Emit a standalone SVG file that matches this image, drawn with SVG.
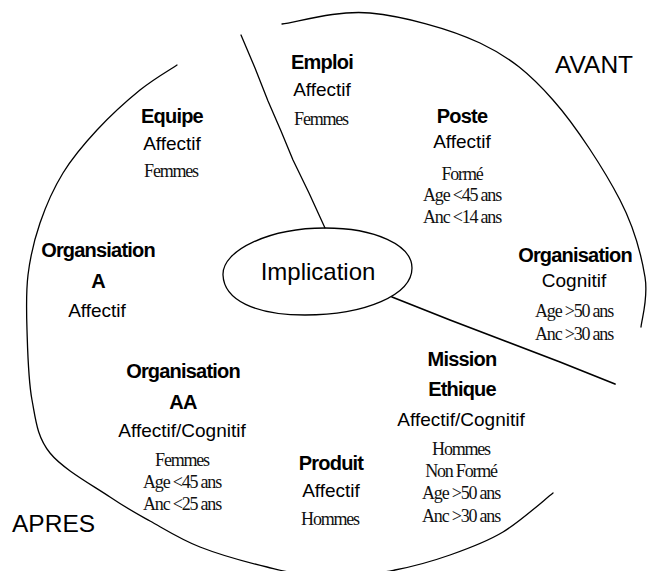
<svg xmlns="http://www.w3.org/2000/svg" width="647" height="571" viewBox="0 0 647 571">
<style>
  .ln{fill:none;stroke:#000;stroke-width:1.3;stroke-linecap:round;stroke-linejoin:round}
  .b{font-family:"Liberation Sans",Arial,sans-serif;font-weight:bold;font-size:20px;letter-spacing:-0.8px;text-anchor:middle;fill:#000}
  .r{font-family:"Liberation Sans",Arial,sans-serif;font-size:19px;text-anchor:middle;fill:#000}
  .s{font-family:"Liberation Serif","Times New Roman",serif;font-size:18px;letter-spacing:-1.2px;text-anchor:middle;fill:#111}
  .big{font-family:"Liberation Sans",Arial,sans-serif;font-size:24.5px;fill:#000}
</style>
<rect width="647" height="571" fill="#fff"/>
<g id="connectors">
  <path class="ln" d="M282,24 C296.7,22.2 337,9.8 370,13 C403,16.2 449.5,28.5 480,43 C510.5,57.5 529.7,73.8 553,100 C576.3,126.2 604.7,170.5 620,200 C635.3,229.5 641.5,255.8 645,277 C648.5,298.2 641.7,318.7 641,327"/>
  <path class="ln" d="M177,65 C170.83,69.17 153.33,79.17 140,90 C126.67,100.83 109.83,116.17 97,130 C84.17,143.83 72.5,157.5 63,173 C53.5,188.5 45.83,206 40,223 C34.17,240 30.17,257.17 28,275 C25.83,292.83 26.33,309.17 27,330 C27.67,350.83 28.17,379.5 32,400 C35.83,420.5 37,436.83 50,453 C63,469.17 93.33,485.67 110,497 C126.67,508.33 135,512.67 150,521 C165,529.33 180.5,539.33 200,547 C219.5,554.67 245.33,561.83 267,567 C288.67,572.17 308.67,577.5 330,578 C351.33,578.5 375,573.83 395,570 C415,566.17 432,561.33 450,555 C468,548.67 485.83,542.33 503,532 C520.17,521.67 544.67,499.5 553,493"/>
  <path class="ln" d="M241,35 L255,68 L268,101 L281,131 L293,160 L309,193 L325,228"/>
  <path class="ln" style="stroke-width:1.7" d="M392,297 L450,320 L505,341 L560,362 L615,384"/>
</g>
<g id="implication">
  <path class="ln" d="M223,275 C222,250 270,228 325,228 C375,228 412,245 412,268 C412,295 365,315 305,315 C255,315 224,300 223,275 Z"/>
  <text class="r" style="font-size:24px" x="318" y="280">Implication</text>
</g>
<g id="avant"><text class="big" x="555" y="73">AVANT</text></g>
<g id="apres"><text class="big" x="12" y="532">APRES</text></g>
<g id="emploi">
  <text class="b" x="322" y="69">Emploi</text>
  <text class="r" x="322" y="96">Affectif</text>
  <text class="s" x="321" y="125">Femmes</text>
</g>
<g id="poste">
  <text class="b" x="462" y="123">Poste</text>
  <text class="r" x="462" y="148">Affectif</text>
  <text class="s" x="462" y="180">Formé</text>
  <text class="s" x="462" y="201">Age &lt;45 ans</text>
  <text class="s" x="462" y="223">Anc &lt;14 ans</text>
</g>
<g id="equipe">
  <text class="b" x="172" y="123">Equipe</text>
  <text class="r" x="172" y="150">Affectif</text>
  <text class="s" x="171" y="177">Femmes</text>
</g>
<g id="organisation-a">
  <text class="b" x="98" y="257">Organsiation</text>
  <text class="b" x="98" y="288">A</text>
  <text class="r" x="97" y="317">Affectif</text>
</g>
<g id="organisation-cognitif">
  <text class="b" x="575" y="262">Organisation</text>
  <text class="r" x="574" y="287">Cognitif</text>
  <text class="s" x="574" y="317">Age &gt;50 ans</text>
  <text class="s" x="574" y="340">Anc &gt;30 ans</text>
</g>
<g id="organisation-aa">
  <text class="b" x="183" y="378">Organisation</text>
  <text class="b" x="183" y="409">AA</text>
  <text class="r" x="182" y="437">Affectif/Cognitif</text>
  <text class="s" x="182" y="466">Femmes</text>
  <text class="s" x="182" y="488">Age &lt;45 ans</text>
  <text class="s" x="182" y="510">Anc &lt;25 ans</text>
</g>
<g id="mission-ethique">
  <text class="b" x="462" y="366">Mission</text>
  <text class="b" x="462" y="396">Ethique</text>
  <text class="r" x="461" y="426">Affectif/Cognitif</text>
  <text class="s" x="461" y="455">Hommes</text>
  <text class="s" x="461" y="477">Non Formé</text>
  <text class="s" x="461" y="499">Age &gt;50 ans</text>
  <text class="s" x="461" y="522">Anc &gt;30 ans</text>
</g>
<g id="produit">
  <text class="b" x="331" y="470">Produit</text>
  <text class="r" x="331" y="497">Affectif</text>
  <text class="s" x="330" y="525">Hommes</text>
</g>
</svg>
